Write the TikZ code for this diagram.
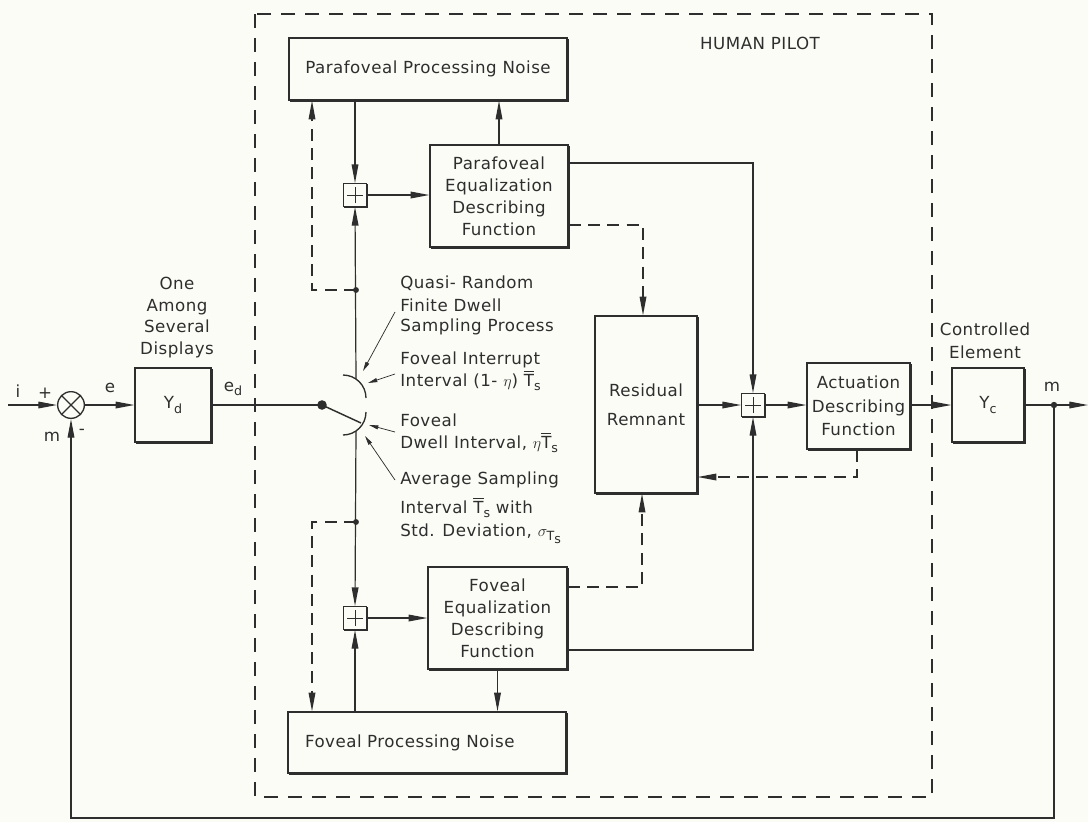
\documentclass[tikz,border=0pt]{standalone}
\usepackage{fontspec}
\setmainfont[LetterSpace=3]{DejaVu Sans}
\usetikzlibrary{arrows.meta,shadows,calc}
\definecolor{ink}{HTML}{2E2E2E}
\definecolor{paper}{HTML}{FCFCF7}
\newcommand\lowsub[1]{\raisebox{-0.45ex}{\fontsize{9.5}{9.5}\selectfont #1}}
\newsavebox\tbox
\newcommand\Tbar{\sbox\tbox{T}\rlap{\raisebox{\dimexpr\ht\tbox+1.3pt\relax}{\rule{\wd\tbox}{0.75pt}}}T\lowsub{s}}
\begin{document}
\begin{tikzpicture}[x=0.75pt,y=-0.75pt,
  every node/.style={font=\fontsize{12.5}{17}\selectfont, text=ink},
  blk/.style={draw=ink, fill=paper, line width=1pt, align=center, inner sep=0pt,
    copy shadow={shadow xshift=1.3pt, shadow yshift=-1.3pt, draw=ink, fill=ink}},
  sumsq/.style={draw=ink, fill=paper, line width=0.9pt, minimum size=17pt, inner sep=0pt,
    copy shadow={shadow xshift=0.8pt, shadow yshift=-0.8pt, draw=ink, fill=ink},
    path picture={\draw[ink, line width=0.6pt]
      ([xshift=-6pt]path picture bounding box.center) -- ([xshift=6pt]path picture bounding box.center)
      ([yshift=-6pt]path picture bounding box.center) -- ([yshift=6pt]path picture bounding box.center);}},
  sumcirc/.style={draw=ink, circle, line width=1pt, minimum size=20pt, inner sep=0pt,
    path picture={\draw[ink, line width=0.9pt]
      (path picture bounding box.north west) -- (path picture bounding box.south east)
      (path picture bounding box.north east) -- (path picture bounding box.south west);}},
  arr/.style={draw=ink, line width=0.9pt, -{Triangle[length=14pt,width=5pt]}},
  lin/.style={draw=ink, line width=0.9pt},
  dsh/.style={dash pattern=on 9pt off 5.5pt},
  pilot/.style={draw=ink, line width=1pt, dash pattern=on 10.5pt off 7.5pt},
  ann/.style={draw=ink, line width=0.55pt, -{Triangle[length=7pt,width=3pt]}},
  note/.style={anchor=west, inner sep=0pt},
  lbl/.style={inner sep=0pt}
]
\path[fill=paper] (0,0) rectangle (1088,822);
\useasboundingbox (0,0) rectangle (1088,822);

% human pilot frame
\draw[pilot] (255,14) rectangle (932,797);
\node[lbl] (hp) at (760,43) {HUMAN PILOT};

% blocks
\node[sumcirc] (sumc) at (71,405) {};
\node[blk, minimum width=57pt, minimum height=55.5pt] (Yd) at (173,405) {Y\lowsub{d}};
\node[blk, minimum width=208.5pt, minimum height=46.5pt] (PPN) at (428,69) {Parafoveal Processing Noise};
\node[blk, minimum width=103.5pt, minimum height=76.5pt, font=\fontsize{12.5}{16.5}\selectfont] (PEDF) at (499,196) {Parafoveal\\Equalization\\Describing\\Function};
\node[sumsq] (sumU) at (355,195) {};
\node[blk, minimum width=76.5pt, minimum height=132.75pt, font=\fontsize{12.5}{21.5}\selectfont] (RR) at (646,404.5) {Residual\\Remnant};
\node[sumsq] (sumR) at (753,405) {};
\node[blk, minimum width=77.25pt, minimum height=64.5pt, font=\fontsize{12.5}{17.5}\selectfont] (ADF) at (858.5,406) {Actuation\\Describing\\Function};
\node[blk, minimum width=54pt, minimum height=55.5pt] (Yc) at (988,405) {Y\lowsub{c}};
\node[blk, minimum width=104.25pt, minimum height=76.5pt, font=\fontsize{12.5}{16.5}\selectfont] (FEDF) at (497.5,618) {Foveal\\Equalization\\Describing\\Function};
\node[sumsq] (sumL) at (355,618) {};
\node[blk, minimum height=45.75pt, text width=183pt, inner xsep=12.75pt, align=left] (FPN) at (427,742.5) {Foveal Processing Noise};

% outer labels
\node[lbl, align=center, font=\fontsize{12.5}{16.3}\selectfont] (disp) at (177,317.5) {One\\Among\\Several\\Displays};
\node[lbl, align=center, font=\fontsize{12.5}{17.3}\selectfont] (ctrl) at (985,340.5) {Controlled\\Element};
\node[lbl] (li) at (18,391) {i};
\node[lbl] (lplus) at (45,393) {+};
\node[lbl] (lm) at (52,437) {m};
\node[lbl] (lminus) at (82,432) {-};
\node[lbl] (le) at (110,388) {e};
\node[lbl] (led) at (233,389) {e\lowsub{d}};
\node[lbl] (lmo) at (1052,387) {m};

% notes
\node[note] (n1a) at (400,283) {Quasi- Random};
\node[note] (n1b) at (400,305) {Finite Dwell};
\node[note] (n1c) at (400,327) {Sampling Process};
\node[note] (n2a) at (400,360) {Foveal Interrupt};
\node[note] (n2b) at (400,381) {Interval (1- $\eta$) \Tbar};
\node[note] (n3a) at (400,420) {Foveal};
\node[note] (n3b) at (400,443) {Dwell Interval, $\eta$\Tbar};
\node[note] (n4a) at (400,480) {Average Sampling};
\node[note] (n4b) at (400,508) {Interval \Tbar{} with};
\node[note] (n4c) at (400,534) {Std. Deviation, $\sigma_{\mbox{\fontsize{9.5}{9.5}\selectfont T\lowsub{s}}}$};

% switch
\coordinate (sw) at (322,405);
\coordinate (armEnd) at (361,423);
\coordinate (swTop) at (356,379);
\coordinate (swBot) at (356,431);
\coordinate (dU) at (356,290);
\coordinate (dL) at (356,522);
\draw[lin, line width=1.1pt] (sw) -- (armEnd);
\draw[lin, line width=1pt] (343,375) .. controls (355.7,375) and (366,385.3) .. (366,398);
\draw[lin, line width=1pt] (366,412) .. controls (366,424.7) and (355.7,435) .. (343,435);

% annotation pointers
\coordinate (a1s) at (395,312); \coordinate (a1e) at (363,371);
\coordinate (a2s) at (395,374); \coordinate (a2e) at (368,383);
\coordinate (a3s) at (395,432); \coordinate (a3e) at (369,425);
\coordinate (a4s) at (395,480); \coordinate (a4e) at (365,436);
\draw[ann] (a1s) -- (a1e);
\draw[ann] (a2s) -- (a2e);
\draw[ann] (a3s) -- (a3e);
\draw[ann] (a4s) -- (a4e);

% main loop
\coordinate (iin) at (8,405);
\draw[arr] (iin) -- (sumc.west);
\draw[arr] (sumc.east) -- (Yd.west);
\draw[lin] (Yd.east) -- (sw);
\fill[ink] (sw) circle[radius=3.6pt];

% upper branch
\draw[arr] (swTop) -- (sumU.south);
\fill[ink] (dU) circle[radius=2.2pt];
\draw[arr] (sumU.north |- PPN.south) -- (sumU.north);
\coordinate (dxU) at (312,290);
\draw[arr, dsh] (dU) -- (dxU) -- (dxU |- PPN.south);
\draw[arr] (sumU.east) -- (sumU.east -| PEDF.west);
\draw[arr] (PEDF.north) -- (PEDF.north |- PPN.south);
\coordinate (eU) at (753,163);
\draw[arr] (PEDF.east |- eU) -- (eU) -- (sumR.north);
\coordinate (dR1) at (643,225);
\draw[arr, dsh] (PEDF.east |- dR1) -- (dR1) -- (dR1 |- RR.north);

% lower branch
\draw[arr] (swBot) -- (sumL.north);
\fill[ink] (dL) circle[radius=2.2pt];
\coordinate (dxL) at (312,522);
\draw[arr, dsh] (dL) -- (dxL) -- (dxL |- FPN.north);
\draw[arr] (sumL.south |- FPN.north) -- (sumL.south);
\draw[arr] (sumL.east) -- (sumL.east -| FEDF.west);
\draw[arr] (FEDF.south) -- (FEDF.south |- FPN.north);
\coordinate (dF) at (642,587);
\draw[arr, dsh] (FEDF.east |- dF) -- (dF) -- (dF |- RR.south);
\coordinate (eL) at (753,650);
\draw[arr] (FEDF.east |- eL) -- (eL) -- (sumR.south);

% right part
\draw[arr] (RR.east |- sumR) -- (sumR.west);
\draw[arr] (sumR.east) -- (ADF.west |- sumR);
\draw[arr] (ADF.east |- Yc) -- (Yc.west);
\coordinate (dA) at (857,477);
\draw[arr, dsh] (dA |- ADF.south) -- (dA) -- (RR.east |- dA);
\coordinate (mout) at (1088,405);
\draw[arr] (Yc.east) -- (mout);
\coordinate (dm) at (1054,405);
\fill[ink] (dm) circle[radius=2.4pt];
\coordinate (fbR) at (1054,818);
\coordinate (fbL) at (71,818);
\draw[arr] (dm) -- (fbR) -- (fbL) -- (sumc.south);
\end{tikzpicture}
\end{document}
